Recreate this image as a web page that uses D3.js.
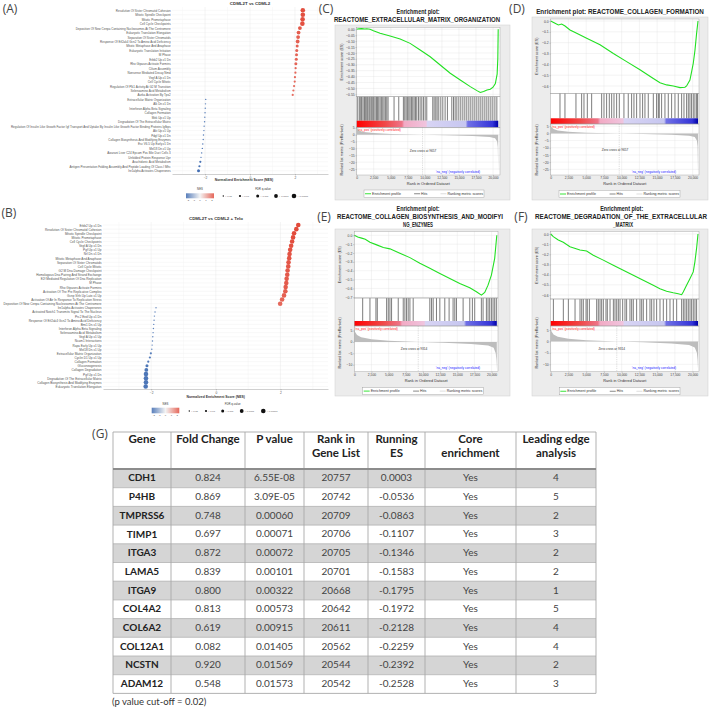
<!DOCTYPE html>
<html>
<head>
<meta charset="utf-8">
<script src="https://cdn.jsdelivr.net/npm/d3@7"></script>
<style>
  body { margin: 0; background: #fff; }
  svg { display: block; }
</style>
</head>
<body>
<svg id="fig" width="709" height="710"></svg>
<script>
// ---------- data: (A) CDML2T vs CDML2 ----------
const A_LABELS = [
  'Resolution Of Sister Chromatid Cohesion', 'Mitotic Spindle Checkpoint', 'Mitotic Prometaphase', 'Cell Cycle Checkpoints',
  'Deposition Of New Cenpa Containing Nucleosomes At The Centromere', 'Eukaryotic Translation Elongation',
  'Separation Of Sister Chromatids', 'Response Of Eif2ak4 Gcn2 To Amino Acid Deficiency', 'Mitotic Metaphase And Anaphase',
  'Eukaryotic Translation Initiation', 'M Phase', 'Erbb2 Up.v1 Dn', 'Rho Gtpases Activate Formins', 'Cilium Assembly',
  'Nonsense Mediated Decay Nmd', 'Vegf A Up.v1 Dn', 'Cell Cycle Mitotic', 'Regulation Of Plk1 Activity At G2 M Transition',
  'Selenoamino Acid Metabolism', 'Aurka Activation By Tpx2',
  'Extracellular Matrix Organization', 'Alk Dn.v1 Dn', 'Interferon Alpha Beta Signaling', 'Collagen Formation', 'Mek Up.v1 Up',
  'Degradation Of The Extracellular Matrix',
  'Regulation Of Insulin Like Growth Factor Igf Transport And Uptake By Insulin Like Growth Factor Binding Proteins Igfbps',
  'Akt Up.v1 Up', 'Pdgf Up.v1 Dn', 'Collagen Biosynthesis And Modifying Enzymes', 'Esc V6.5 Up Early.v1 Dn', 'Mel18 Dn.v1 Up',
  'Aizarani Liver C24 Epcam Pos Bile Duct Cells 3', 'Unfolded Protein Response Upr', 'Arachidonic Acid Metabolism',
  'Antigen Presentation Folding Assembly And Peptide Loading Of Class I Mhc', 'Ire1alpha Activates Chaperones'
];
const A_NES = [2.35, 2.35, 2.34, 2.33, 2.22, 2.16, 2.14, 2.12, 2.10, 2.08, 2.07, 2.06, 2.04, 2.03, 2.02, 2.00, 1.99, 1.96, 1.93, 1.90,
  -1.97, -1.98, -1.99, -2.00, -2.01, -2.02, -2.04, -2.05, -2.07, -2.08, -2.10, -2.12, -2.15, -2.18, -2.21, -2.25, -2.29];
// FDR class: 0 '<0.05' ... 4 '<0.00001'
const A_FDR = [4, 4, 4, 4, 3, 3, 3, 3, 2, 2, 2, 2, 2, 1, 1, 1, 1, 1, 1, 1,
  0, 0, 0, 0, 0, 0, 0, 0, 0, 0, 0, 0, 0, 0, 1, 1, 2];

// ---------- data: (B) CDML2T vs CDML2 + Telo ----------
const B_LABELS = [
  'Erbb2 Up.v1 Dn', 'Resolution Of Sister Chromatid Cohesion', 'Mitotic Spindle Checkpoint', 'Mitotic Prometaphase',
  'Cell Cycle Checkpoints', 'Vegf A Up.v1 Dn', 'Pgf Up.v1 Up', 'Nrl Dn.v1 Dn', 'Mitotic Metaphase And Anaphase',
  'Separation Of Sister Chromatids', 'Cell Cycle Mitotic', 'G2 M Dna Damage Checkpoint', 'Homologous Dna Pairing And Strand Exchange',
  'E2f Mediated Regulation Of Dna Replication', 'M Phase', 'Rho Gtpases Activate Formins', 'Activation Of The Pre Replicative Complex',
  'Gcnp Shh Up Late.v1 Up', 'Activation Of Atr In Response To Replication Stress',
  'Deposition Of New Cenpa Containing Nucleosomes At The Centromere',
  'Ire1alpha Activates Chaperones', 'Activated Notch1 Transmits Signal To The Nucleus', 'Prc2 Eed Up.v1 Dn',
  'Response Of Eif2ak4 Gcn2 To Amino Acid Deficiency', 'Bmi1 Dn.v1 Up', 'Interferon Alpha Beta Signaling',
  'Selenoamino Acid Metabolism', 'Vegf A Up.v1 Up', 'Ncam1 Interactions', 'Rapa Early Up.v1 Up', 'Mel18 Dn.v1 Up',
  'Extracellular Matrix Organization', 'Cyclin D1 Up.v1 Up', 'Collagen Formation', 'Gluconeogenesis', 'Collagen Degradation',
  'Pgf Up.v1 Dn', 'Degradation Of The Extracellular Matrix', 'Collagen Biosynthesis And Modifying Enzymes',
  'Eukaryotic Translation Elongation'
];
const B_NES = [2.55, 2.49, 2.42, 2.39, 2.36, 2.33, 2.30, 2.28, 2.27, 2.25, 2.24, 2.22, 2.21, 2.19, 2.18, 2.16, 2.15, 2.11, 2.05, 1.99,
  -1.85, -1.88, -1.90, -1.91, -1.92, -1.93, -1.94, -1.95, -1.96, -1.97, -1.98, -2.01, -2.04, -2.09, -2.13, -2.15, -2.16, -2.16, -2.16, -2.17];
const B_FDR = [4, 4, 4, 4, 4, 4, 4, 4, 4, 4, 4, 4, 4, 4, 4, 4, 4, 4, 4, 4,
  0, 0, 0, 0, 0, 0, 0, 0, 0, 0, 0, 1, 1, 1, 2, 3, 4, 4, 4, 4];

const NES_TICKS = [-2, -1, 0, 1, 2];
const FDR_LABELS = ['< 0.05', '< 0.01', '< 0.001', '< 0.0001', '< 0.00001'];
const FDR_R = [0.7, 1.1, 1.5, 1.9, 2.3];

// ---------- data: (C)-(F) GSEA enrichment plots ----------
const N_GENES = 20757;
const RANK_TICKS = [0, 2500, 5000, 7500, 10000, 12500, 15000, 17500, 20000];

const C_ES_RANK = [0, 300, 735, 1200, 1470, 1960, 2450, 3430, 4900, 6370, 7840, 9310, 10780, 12250, 13720, 15190, 16660, 17640, 18130, 18620, 19110, 19600, 20000, 20340, 20600, 20700, 20757];
const C_ES = [0, 0.004, 0.006, 0.002, 0.004, 0, -0.012, -0.034, -0.057, -0.082, -0.119, -0.175, -0.232, -0.302, -0.372, -0.429, -0.485, -0.519, -0.535, -0.527, -0.513, -0.507, -0.49, -0.46, -0.38, -0.25, 0];
const C_HITS = [150, 390, 590, 730, 930, 1130, 1270, 1470, 1620, 1810, 1960, 2150, 2350, 2500, 2690, 2890, 3040, 3230, 3430, 3620, 3820, 4010, 4210, 4410, 4600,
  5480, 6170, 6850, 7050, 7250, 7440, 7640, 7830, 8030, 8220, 8420, 8620, 8810, 9060, 9300, 9550, 9790, 10040, 10280,
  11160, 11360, 11600, 11800, 12040, 12340, 12630, 12970, 13310, 13950, 14200, 14440, 14690, 14980, 15270, 15570, 15860, 16150,
  16450, 16740, 17040, 17330, 17620, 17920, 18210, 18500, 18800, 19090, 19380, 19680, 19970, 20270, 20560];
const C_ES_TICKS = [0, -0.05, -0.1, -0.15, -0.2, -0.25, -0.3, -0.35, -0.4, -0.45, -0.5, -0.55];

const D_ES_RANK = [0, 610, 1080, 1550, 2020, 2720, 3660, 5070, 6950, 8830, 10700, 12580, 14460, 15400, 16340, 17280, 18220, 18920, 19150, 19620, 19860, 20090, 20330, 20560, 20757];
const D_ES = [0, -0.021, -0.037, -0.028, -0.046, -0.083, -0.114, -0.16, -0.22, -0.30, -0.375, -0.45, -0.53, -0.57, -0.59, -0.60, -0.615, -0.612, -0.60, -0.545, -0.468, -0.39, -0.27, -0.114, 0];
const D_HITS = [1310, 2010, 3560, 4360, 4690, 5160, 5770, 7180, 7510, 7880, 8260, 8590, 8920, 9290, 9670, 10320, 10930, 11400, 11730, 12110,
  12580, 12950, 13280, 13750, 14460, 14920, 15160, 15300, 15630, 16100, 16570, 17040, 17510, 17980, 18450, 18780, 19150, 19390,
  19620, 19850, 20090, 20320, 20560, 20700];
const D_ES_TICKS = [0, -0.1, -0.2, -0.3, -0.4, -0.5, -0.6];

const E_ES_RANK = [0, 500, 1070, 1600, 2280, 3260, 4230, 5190, 6640, 8100, 9550, 11000, 12460, 13910, 15360, 16820, 17790, 18520, 19000, 19480, 19970, 20450, 20757];
const E_ES = [0, -0.02, -0.032, -0.045, -0.078, -0.108, -0.138, -0.153, -0.203, -0.252, -0.316, -0.373, -0.43, -0.487, -0.544, -0.593, -0.638, -0.676, -0.646, -0.563, -0.449, -0.26, 0];
const E_HITS = [1220, 2280, 3150, 3350, 4710, 4950, 5190, 5430, 6400, 7130, 7370, 7610, 7850, 8100, 8580, 11000, 11250, 11490, 11970, 12460,
  13180, 13810, 14390, 14640, 14880, 15850, 16820, 17200, 17540, 18510, 18760, 19240, 19480, 19720, 19970, 20210, 20450, 20690];
const E_ES_TICKS = [0, -0.1, -0.2, -0.3, -0.4, -0.5, -0.6, -0.7];

const F_ES_RANK = [0, 366, 1070, 1775, 2714, 4122, 5061, 6000, 7408, 8817, 10225, 11634, 13042, 14451, 15390, 16329, 17268, 17972, 18451, 18676, 19146, 19615, 20085, 20320, 20555, 20757];
const F_ES = [0, -0.026, -0.059, -0.082, -0.125, -0.158, -0.168, -0.208, -0.257, -0.307, -0.356, -0.406, -0.455, -0.505, -0.538, -0.564, -0.578, -0.587, -0.597, -0.571, -0.505, -0.439, -0.373, -0.274, -0.142, 0];
const F_HITS = [380, 1780, 2490, 3430, 4130, 4370, 4600, 4980, 5160, 5450, 6480, 6710, 6950, 7180, 7420, 7790, 7980, 8360, 8830, 9060,
  9300, 9530, 9770, 10140, 10470, 10700, 11170, 11410, 11640, 12110, 12580, 12820, 13050, 13520, 13990, 14230, 14550, 14930,
  15400, 15870, 16340, 16810, 17280, 17750, 18450, 18690, 18920, 19160, 19390, 19630, 19860, 20090, 20330, 20560];
const F_ES_TICKS = [0, -0.1, -0.2, -0.3, -0.4, -0.5, -0.6];

// ranked list metric (same ranked list, two runs)
const M_RANK_1 = [0, 100, 400, 1000, 2500, 5000, 9657, 13000, 17000, 19500, 20300, 20600, 20700, 20757];
const M_VAL_1 = [7, 4.5, 3, 2, 1.2, 0.5, 0, -0.4, -0.9, -1.6, -2.6, -5, -9, -27];
const M_TICKS_1 = [5, 0, -5, -10, -15, -20, -25];
const M_RANK_2 = [0, 100, 400, 1000, 2500, 5000, 9314, 13000, 17000, 19500, 20300, 20600, 20700, 20757];
const M_VAL_2 = [7, 4.5, 3, 2, 1.2, 0.5, 0, -0.4, -0.9, -1.6, -2.6, -5, -8, -12];
const M_TICKS_2 = [5, 0, -5, -10];

// ---------- data: (G) table ----------
const GENES = ['CDH1', 'P4HB', 'TMPRSS6', 'TIMP1', 'ITGA3', 'LAMA5', 'ITGA9', 'COL4A2', 'COL6A2', 'COL12A1', 'NCSTN', 'ADAM12'];
const FOLD = ['0.824', '0.869', '0.748', '0.697', '0.872', '0.839', '0.800', '0.813', '0.619', '0.082', '0.920', '0.548'];
const PVAL = ['6.55E-08', '3.09E-05', '0.00060', '0.00071', '0.00072', '0.00101', '0.00322', '0.00573', '0.00915', '0.01405', '0.01569', '0.01573'];
const RANKS = ['20757', '20742', '20709', '20706', '20705', '20701', '20668', '20642', '20611', '20562', '20544', '20542'];
const RUN_ES = ['0.0003', '-0.0536', '-0.0863', '-0.1107', '-0.1346', '-0.1583', '-0.1795', '-0.1972', '-0.2128', '-0.2259', '-0.2392', '-0.2528'];
const CORE = ['Yes', 'Yes', 'Yes', 'Yes', 'Yes', 'Yes', 'Yes', 'Yes', 'Yes', 'Yes', 'Yes', 'Yes'];
const LEADING = ['4', '5', '2', '3', '2', '2', '1', '5', '4', '4', '2', '3'];
const HEADERS = [['Gene'], ['Fold Change'], ['P value'], ['Rank in', 'Gene List'], ['Running', 'ES'], ['Core', 'enrichment'], ['Leading edge', 'analysis']];

// ================================================================
const SANS = 'Liberation Sans, Arial, sans-serif';
const svg = d3.select('#fig');
const defs = svg.append('defs');

const nesColor = d3.scaleLinear().domain([-2.4, 0, 2.4]).range(['#3a68b0', '#f4f4f4', '#e24b3b']).clamp(true);

function styleAxis(ax, fs, col) {
  ax.attr('font-size', fs).attr('font-family', SANS);
  ax.selectAll('text').attr('fill', col);
  ax.selectAll('line').attr('stroke', '#888').attr('stroke-width', 0.4);
  ax.select('.domain').attr('stroke', '#888').attr('stroke-width', 0.4);
}

// ---------- dot plots ----------
function dotPanel(cfg, labels, nes, fdr) {
  const g = svg.append('g');
  const x = d3.scaleLinear().domain(cfg.domain).range([cfg.xl, cfg.xr]);
  const y = d3.scalePoint().domain(d3.range(labels.length)).range([cfg.yFirst, cfg.yLast]);

  g.selectAll('line.hg').data(d3.range(labels.length)).join('line')
    .attr('x1', cfg.xl).attr('x2', cfg.xr).attr('y1', d => y(d)).attr('y2', d => y(d))
    .attr('stroke', '#eeeeee').attr('stroke-width', 0.4);
  g.selectAll('line.vg').data([-3, -2, -1, 0, 1, 2, 3]).join('line')
    .attr('x1', d => x(d)).attr('x2', d => x(d)).attr('y1', cfg.gridTop).attr('y2', cfg.axisY)
    .attr('stroke', d => d % 2 === 0 ? '#e6e6e6' : '#f2f2f2').attr('stroke-width', 0.4);

  const ax = g.append('g').attr('transform', `translate(0,${cfg.axisY})`)
    .call(d3.axisBottom(x).tickValues([-2, 0, 2]).tickFormat(d3.format('d')).tickSize(1.5).tickPadding(0.8).tickSizeOuter(0));
  styleAxis(ax, 3.2, '#555');

  const ay = g.append('g').attr('transform', `translate(${cfg.labelRight + 1},0)`)
    .call(d3.axisLeft(y).tickSize(0).tickPadding(1).tickFormat(i => labels[i]));
  ay.select('.domain').remove();
  ay.attr('font-size', cfg.labelSize).attr('font-family', SANS);
  ay.selectAll('text').attr('fill', '#555');

  g.selectAll('circle.dot').data(nes).join('circle')
    .attr('cx', d => x(d)).attr('cy', (d, i) => y(i))
    .attr('r', (d, i) => FDR_R[fdr[i]]).attr('fill', d => nesColor(d));

  g.append('text').attr('x', cfg.titleX).attr('y', cfg.titleY).attr('text-anchor', 'middle')
    .attr('dominant-baseline', 'middle').attr('font-family', SANS).attr('font-weight', 'bold')
    .attr('font-size', 4.4).attr('fill', '#333').text(cfg.title);
  g.append('text').attr('x', cfg.axisTitleX).attr('y', cfg.axisTitleY).attr('text-anchor', 'middle')
    .attr('dominant-baseline', 'middle').attr('font-family', SANS).attr('font-weight', 'bold')
    .attr('font-size', 3.4).attr('fill', '#333').text('Normalized Enrichment Score (NES)');

  // legend: NES gradient
  const L = cfg.legend;
  const gid = 'nesgrad' + cfg.id;
  const grad = defs.append('linearGradient').attr('id', gid);
  grad.selectAll('stop').data(NES_TICKS).join('stop')
    .attr('offset', (d, i) => i / (NES_TICKS.length - 1)).attr('stop-color', d => nesColor(d));
  g.append('text').attr('x', L.barX + L.barW / 2).attr('y', L.titleY).attr('text-anchor', 'middle')
    .attr('dominant-baseline', 'middle').attr('font-family', SANS).attr('font-size', 2.8).attr('fill', '#333').text('NES');
  g.append('rect').attr('x', L.barX).attr('y', L.barY).attr('width', L.barW).attr('height', L.barH).attr('fill', `url(#${gid})`);
  const lx = d3.scaleLinear().domain([-2, 2]).range([L.barX + 2, L.barX + L.barW - 2]);
  g.selectAll('text.nt').data(NES_TICKS).join('text')
    .attr('x', d => lx(d)).attr('y', L.barY + L.barH + 2.8).attr('text-anchor', 'middle')
    .attr('font-family', SANS).attr('font-size', 2.5).attr('fill', '#555').text(d => d);

  // legend: FDR sizes
  g.append('text').attr('x', L.fdrTitleX).attr('y', L.titleY).attr('text-anchor', 'middle')
    .attr('dominant-baseline', 'middle').attr('font-family', SANS).attr('font-size', 2.8).attr('fill', '#333').text('FDR q-value');
  g.selectAll('circle.fl').data(FDR_LABELS).join('circle')
    .attr('cx', (d, i) => L.fdrX[i]).attr('cy', L.fdrY).attr('r', (d, i) => FDR_R[i]).attr('fill', '#111');
  g.selectAll('text.fl').data(FDR_LABELS).join('text')
    .attr('x', (d, i) => L.fdrX[i] + FDR_R[i] + 1.2).attr('y', L.fdrY).attr('dominant-baseline', 'middle')
    .attr('font-family', SANS).attr('font-size', 2.4).attr('fill', '#555').text(d => d);
}

dotPanel({
  id: 'A', domain: [-3.47, 3.47], xl: 172, xr: 328, yFirst: 10.3, yLast: 170.7, gridTop: 7, axisY: 174,
  labelRight: 170.7, labelSize: 3.0, title: 'CDML2T vs CDML2', titleX: 250, titleY: 3.6,
  axisTitleX: 244, axisTitleY: 180.3,
  legend: { titleY: 189.3, barX: 186, barW: 28, barY: 193.3, barH: 5, fdrTitleX: 263, fdrY: 196, fdrX: [223.3, 240, 257.7, 276, 294] }
}, A_LABELS, A_NES, A_FDR);

dotPanel({
  id: 'B', domain: [-3.49, 3.47], xl: 103, xr: 328, yFirst: 225, yLast: 386.5, gridTop: 222, axisY: 389,
  labelRight: 101.5, labelSize: 3.1, title: 'CDML2T vs CDML2 + Telo', titleX: 216, titleY: 219,
  axisTitleX: 215.7, axisTitleY: 396.7,
  legend: { titleY: 404, barX: 151.7, barW: 27.6, barY: 407.7, barH: 5.6, fdrTitleX: 232.7, fdrY: 411, fdrX: [189.3, 206, 222.7, 241.7, 263.3] }
}, B_LABELS, B_NES, B_FDR);

// ---------- GSEA enrichment plots ----------
const BAR_STOPS = [[0, '#ff0000'], [0.2, '#f04848'], [0.32, '#ee7488'], [0.335, '#f2aac4'], [0.49, '#f0c4de'],
  [0.5, '#d8d4f4'], [0.77, '#c6c6f0'], [0.785, '#7070e6'], [0.96, '#3434d8'], [1, '#0000a8']];
defs.append('linearGradient').attr('id', 'rankbar').selectAll('stop').data(BAR_STOPS).join('stop')
  .attr('offset', d => d[0]).attr('stop-color', d => d[1]);

function gseaPanel(c, d) {
  const g = svg.append('g');
  const x = d3.scaleLinear().domain([0, N_GENES]).range([c.plotL, c.xEnd]);
  const yEs = d3.scaleLinear().domain([0, c.esRefVal]).range([c.es0, c.esRefPx]);
  const yM = d3.scaleLinear().domain([5, c.mRefVal]).range([c.m5, c.mRefPx]);
  const pw = c.plotR - c.plotL;

  g.append('rect').attr('x', c.frame[0]).attr('y', c.frame[1])
    .attr('width', c.frame[2] - c.frame[0]).attr('height', c.frame[3] - c.frame[1])
    .attr('fill', '#ececec').attr('stroke', '#cfcfcf').attr('stroke-width', 0.5);

  const boxes = [[c.esTop, c.esBottom], [c.esBottom, c.hitsBottom], [c.barBottom, c.rankBottom]];
  g.selectAll('rect.box').data(boxes).join('rect')
    .attr('x', c.plotL).attr('y', b => b[0]).attr('width', pw).attr('height', b => b[1] - b[0]).attr('fill', '#fff');

  // grid
  g.selectAll('line.eg').data(d.esTicks).join('line')
    .attr('x1', c.plotL).attr('x2', c.plotR).attr('y1', t => yEs(t)).attr('y2', t => yEs(t))
    .attr('stroke', '#dedede').attr('stroke-width', 0.35);
  g.selectAll('line.mg').data(d.mTicks).join('line')
    .attr('x1', c.plotL).attr('x2', c.plotR).attr('y1', t => yM(t)).attr('y2', t => yM(t))
    .attr('stroke', '#dedede').attr('stroke-width', 0.35);
  [[c.esTop, c.esBottom], [c.barBottom, c.rankBottom]].forEach(b => {
    g.append('g').selectAll('line').data(RANK_TICKS).join('line')
      .attr('x1', t => x(t)).attr('x2', t => x(t)).attr('y1', b[0]).attr('y2', b[1])
      .attr('stroke', '#dedede').attr('stroke-width', 0.35);
  });

  // ranked list metric
  const area = d3.area().x(p => x(p[0])).y0(yM(0)).y1(p => yM(p[1]));
  g.append('path').datum(d3.zip(d.mRank, d.mVal)).attr('d', area).attr('fill', '#bdbdbd');
  g.append('line').attr('x1', x(d.zero)).attr('x2', x(d.zero)).attr('y1', c.barBottom).attr('y2', c.rankBottom)
    .attr('stroke', '#aaa').attr('stroke-width', 0.4).attr('stroke-dasharray', '1.2,1');

  // hits
  g.selectAll('line.hit').data(d.hits).join('line')
    .attr('x1', r => x(r)).attr('x2', r => x(r)).attr('y1', c.esBottom).attr('y2', c.hitsBottom)
    .attr('stroke', '#111').attr('stroke-width', 0.55);

  // colour bar
  g.append('rect').attr('x', c.plotL).attr('y', c.hitsBottom).attr('width', x(N_GENES) - c.plotL)
    .attr('height', c.barBottom - c.hitsBottom).attr('fill', 'url(#rankbar)');

  // enrichment profile
  g.append('path').datum(d3.zip(d.esRank, d.es))
    .attr('d', d3.line().x(p => x(p[0])).y(p => yEs(p[1])))
    .attr('fill', 'none').attr('stroke', '#22e022').attr('stroke-width', 1.1);

  // box outlines
  g.selectAll('rect.ob').data([[c.esTop, c.esBottom], [c.esBottom, c.barBottom], [c.barBottom, c.rankBottom]]).join('rect')
    .attr('x', c.plotL).attr('y', b => b[0]).attr('width', pw).attr('height', b => b[1] - b[0])
    .attr('fill', 'none').attr('stroke', '#999').attr('stroke-width', 0.4);

  // axes
  const a1 = g.append('g').attr('transform', `translate(${c.plotL},0)`)
    .call(d3.axisLeft(yEs).tickValues(d.esTicks).tickFormat(d3.format(c.esFmt)).tickSize(1.2).tickPadding(0.8));
  a1.select('.domain').remove();
  styleAxis(a1, 3.4, '#444');
  const a2 = g.append('g').attr('transform', `translate(${c.plotL},0)`)
    .call(d3.axisLeft(yM).tickValues(d.mTicks).tickFormat(d3.format('d')).tickSize(1.2).tickPadding(0.8));
  a2.select('.domain').remove();
  styleAxis(a2, 3.4, '#444');
  const a3 = g.append('g').attr('transform', `translate(0,${c.rankBottom})`)
    .call(d3.axisBottom(x).tickValues(RANK_TICKS).tickFormat(d3.format(',')).tickSize(1.2).tickPadding(0.6));
  a3.select('.domain').remove();
  styleAxis(a3, 3.3, '#444');

  const txt = (tx, ty, s, fs, col, anchor) => g.append('text').attr('x', tx).attr('y', ty)
    .attr('text-anchor', anchor || 'middle').attr('dominant-baseline', 'middle')
    .attr('font-family', SANS).attr('font-size', fs).attr('fill', col).text(s);

  txt((c.plotL + c.plotR) / 2, c.xTitleY, 'Rank in Ordered Dataset', 3.9, '#333');
  txt(0, 0, 'Enrichment score (ES)', 3.7, '#333')
    .attr('transform', `translate(${c.yTitleX},${(c.esTop + c.esBottom) / 2}) rotate(-90)`);
  txt(0, 0, 'Ranked list metric (PreRanked)', 3.7, '#333')
    .attr('transform', `translate(${c.yTitleX},${c.rankTitleY}) rotate(-90)`);
  txt(c.naPos[0], c.naPos[1], "'na_pos' (positively correlated)", 3.2, '#ff2020', 'start');
  txt(c.zeroPos[0], c.zeroPos[1], 'Zero cross at ' + d.zero, 3.2, '#333');
  txt(c.naNeg[0], c.naNeg[1], "'na_neg' (negatively correlated)", 3.2, '#2020ff');

  // legend box
  const lb = c.legend;
  g.append('rect').attr('x', lb[0]).attr('y', lb[1]).attr('width', lb[2] - lb[0]).attr('height', lb[3] - lb[1])
    .attr('fill', '#fff').attr('stroke', '#999').attr('stroke-width', 0.4);
  const items = [['Enrichment profile', '#22e022', 0.9], ['Hits', '#111', 0.5], ['Ranking metric scores', '#bbb', 0.5]];
  const ly = (lb[1] + lb[3]) / 2;
  const texts = items.map(it => txt(0, ly, it[0], 3.6, '#333', 'start'));
  const widths = texts.map(t => t.node().getComputedTextLength());
  const lineW = 6;
  const gap = (lb[2] - lb[0] - 2 - d3.sum(widths) - 3 * (lineW + 1)) / 2;
  let cx = lb[0] + 1;
  items.forEach((it, i) => {
    g.append('line').attr('x1', cx).attr('x2', cx + lineW).attr('y1', ly).attr('y2', ly)
      .attr('stroke', it[1]).attr('stroke-width', it[2]);
    texts[i].attr('x', cx + lineW + 1);
    cx += lineW + 1 + widths[i] + gap;
  });

  // titles: squeezed horizontally to the width they take in the figure
  c.titles.forEach(t => {
    const el = txt(0, 0, t[0], 7.4, '#222').attr('font-weight', 'bold');
    const w = el.node().getComputedTextLength();
    el.attr('transform', `translate(${t[1]},${t[2]}) scale(${Math.min(1, t[3] / w)},1)`);
  });
}

gseaPanel({
  frame: [335, 25, 510, 200], plotL: 356.7, xEnd: 498.2, plotR: 500,
  esTop: 27.3, esBottom: 96.7, es0: 29.3, esRefVal: -0.55, esRefPx: 94.3, esFmt: '.2f',
  hitsBottom: 120.7, barBottom: 127.3, rankBottom: 175, m5: 127.9, mRefVal: -25, mRefPx: 169,
  xTitleY: 183.5, yTitleX: 341.7, rankTitleY: 150, legend: [364, 190, 484, 197.5],
  naPos: [358, 129.8], zeroPos: [423, 150.7], naNeg: [458, 171.7],
  titles: [['Enrichment plot:', 418, 11.7, 43], ['REACTOME_EXTRACELLULAR_MATRIX_ORGANIZATION', 417, 20.3, 166]]
}, { esRank: C_ES_RANK, es: C_ES, hits: C_HITS, esTicks: C_ES_TICKS, mRank: M_RANK_1, mVal: M_VAL_1, mTicks: M_TICKS_1, zero: 9657 });

gseaPanel({
  frame: [532, 17, 708, 200], plotL: 550.7, xEnd: 698, plotR: 699,
  esTop: 19, esBottom: 93.3, es0: 21, esRefVal: -0.6, esRefPx: 86, esFmt: '.1f',
  hitsBottom: 118.3, barBottom: 124, rankBottom: 175, m5: 126.2, mRefVal: -25, mRefPx: 169.3,
  xTitleY: 183.5, yTitleX: 537, rankTitleY: 150, legend: [559, 190.5, 680, 197.5],
  naPos: [552, 127], zeroPos: [615, 150], naNeg: [654, 171.7],
  titles: [['Enrichment plot: REACTOME_COLLAGEN_FORMATION', 620, 11.7, 168]]
}, { esRank: D_ES_RANK, es: D_ES, hits: D_HITS, esTicks: D_ES_TICKS, mRank: M_RANK_1, mVal: M_VAL_1, mTicks: M_TICKS_1, zero: 9657 });

gseaPanel({
  frame: [335, 229, 510, 396], plotL: 354.3, xEnd: 496.8, plotR: 498,
  esTop: 231.5, esBottom: 298, es0: 235.3, esRefVal: -0.7, esRefPx: 297.3, esFmt: '.1f',
  hitsBottom: 321, barBottom: 326, rankBottom: 371.7, m5: 330.5, mRefVal: -10, mRefPx: 364.7,
  xTitleY: 381, yTitleX: 340, rankTitleY: 343, legend: [362.7, 387.7, 483.3, 394.5],
  naPos: [355, 329.5], zeroPos: [414, 349], naNeg: [458, 368.3],
  titles: [['Enrichment plot:', 418, 209.3, 43], ['REACTOME_COLLAGEN_BIOSYNTHESIS_AND_MODIFYI', 420, 216.9, 166], ['NG_ENZYMES', 418, 225.2, 30]]
}, { esRank: E_ES_RANK, es: E_ES, hits: E_HITS, esTicks: E_ES_TICKS, mRank: M_RANK_2, mVal: M_VAL_2, mTicks: M_TICKS_2, zero: 9314 });

gseaPanel({
  frame: [532, 229, 708, 396], plotL: 550.7, xEnd: 698, plotR: 699,
  esTop: 231.5, esBottom: 299, es0: 234, esRefVal: -0.6, esRefPx: 295, esFmt: '.1f',
  hitsBottom: 321, barBottom: 326, rankBottom: 371.7, m5: 330, mRefVal: -10, mRefPx: 364.3,
  xTitleY: 381, yTitleX: 536.7, rankTitleY: 343, legend: [559.3, 387.7, 680, 394.8],
  naPos: [552, 329.5], zeroPos: [611.7, 349], naNeg: [654, 368.3],
  titles: [['Enrichment plot:', 621.7, 209.3, 43], ['REACTOME_DEGRADATION_OF_THE_EXTRACELLULAR', 621, 216.9, 172], ['_MATRIX', 623, 225.2, 20]]
}, { esRank: F_ES_RANK, es: F_ES, hits: F_HITS, esTicks: F_ES_TICKS, mRank: M_RANK_2, mVal: M_VAL_2, mTicks: M_TICKS_2, zero: 9314 });

// ---------- (G) table ----------
const TABLE = { left: 113, top: 432, headH: 37, rowH: 18.7 };
const COL_W = [58, 74, 59, 64, 57, 91, 80];
const colX = [TABLE.left];
COL_W.forEach(w => colX.push(colX[colX.length - 1] + w));
const tRight = colX[colX.length - 1];
const rowY = d3.scaleBand().domain(d3.range(GENES.length))
  .range([TABLE.top + TABLE.headH, TABLE.top + TABLE.headH + TABLE.rowH * GENES.length]);
const tBottom = rowY.range()[1];
const tg = svg.append('g').attr('font-family', 'Lato, Open Sans, sans-serif');
const columns = [GENES, FOLD, PVAL, RANKS, RUN_ES, CORE, LEADING];

tg.selectAll('rect.row').data(GENES).join('rect')
  .attr('x', TABLE.left).attr('y', (d, i) => rowY(i)).attr('width', tRight - TABLE.left).attr('height', rowY.bandwidth())
  .attr('fill', (d, i) => i % 2 === 0 ? '#d5d5d5' : '#ffffff');

tg.selectAll('line.rl').data(d3.range(1, GENES.length)).join('line')
  .attr('x1', TABLE.left).attr('x2', tRight).attr('y1', i => rowY(i)).attr('y2', i => rowY(i))
  .attr('stroke', '#b0b0b0').attr('stroke-width', 0.8);
tg.selectAll('line.cl').data(colX).join('line')
  .attr('x1', d => d).attr('x2', d => d).attr('y1', TABLE.top).attr('y2', tBottom)
  .attr('stroke', '#a8a8a8').attr('stroke-width', 0.9);
tg.append('line').attr('x1', TABLE.left).attr('x2', tRight).attr('y1', TABLE.top).attr('y2', TABLE.top)
  .attr('stroke', '#a8a8a8').attr('stroke-width', 0.9);
tg.append('line').attr('x1', TABLE.left).attr('x2', tRight).attr('y1', tBottom).attr('y2', tBottom)
  .attr('stroke', '#a8a8a8').attr('stroke-width', 0.9);
tg.append('line').attr('x1', TABLE.left).attr('x2', tRight).attr('y1', rowY(0)).attr('y2', rowY(0))
  .attr('stroke', '#8c8c8c').attr('stroke-width', 2);

HEADERS.forEach((lines, j) => {
  lines.forEach((s, k) => {
    tg.append('text').attr('x', colX[j] + COL_W[j] / 2).attr('y', TABLE.top + 8 + k * 14.3)
      .attr('text-anchor', 'middle').attr('dominant-baseline', 'middle')
      .attr('font-size', 11.5).attr('font-weight', 'bold').attr('fill', '#222').text(s);
  });
});

columns.forEach((col, j) => {
  tg.selectAll(`text.c${j}`).data(col).join('text')
    .attr('x', colX[j] + COL_W[j] / 2).attr('y', (d, i) => rowY(i) + rowY.bandwidth() / 2 + 0.5)
    .attr('text-anchor', 'middle').attr('dominant-baseline', 'middle')
    .attr('font-size', 10).attr('font-weight', j === 0 ? 'bold' : 'normal')
    .attr('fill', j === 0 ? '#222' : '#444').text(d => d);
});

tg.append('text').attr('x', TABLE.left - 1).attr('y', tBottom + 9.5).attr('dominant-baseline', 'middle')
  .attr('font-size', 9.5).attr('fill', '#333').text('(p value cut-off = 0.02)');

// ---------- panel letters ----------
const LETTERS = [['(A)', 10, 10], ['(B)', 9, 214], ['(C)', 326, 10], ['(D)', 517, 10], ['(E)', 324, 218], ['(F)', 521, 218], ['(G)', 100, 435]];
svg.selectAll('text.letter').data(LETTERS).join('text')
  .attr('x', d => d[1]).attr('y', d => d[2]).attr('text-anchor', 'middle').attr('dominant-baseline', 'middle')
  .attr('font-family', 'Open Sans, sans-serif').attr('font-size', 12).attr('fill', '#444').text(d => d[0]);
</script>
</body>
</html>
